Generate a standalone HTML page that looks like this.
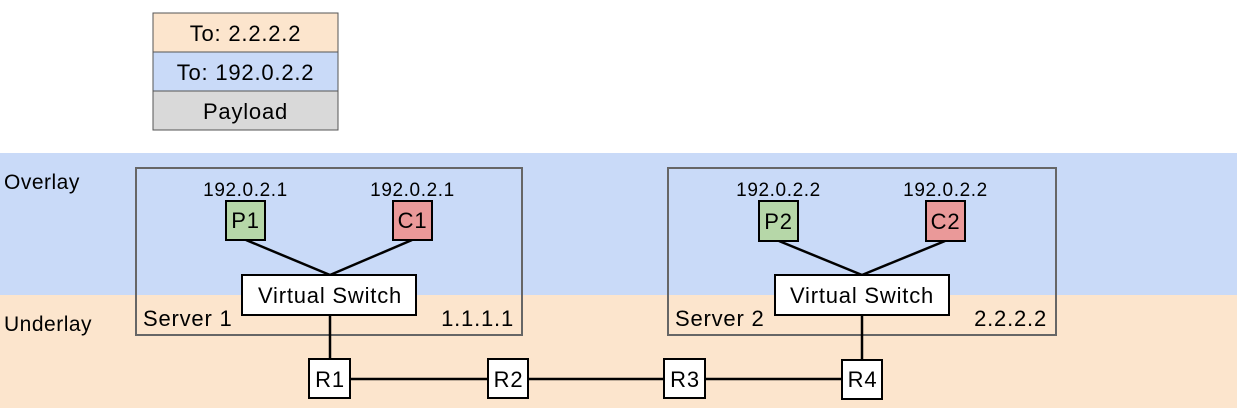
<!DOCTYPE html>
<html><head><meta charset="utf-8"><style>
html,body{margin:0;padding:0;background:#fff}
svg{display:block}
text{font-family:"Liberation Sans",sans-serif;fill:#000}
</style></head><body>
<svg width="1237" height="408" viewBox="0 0 1237 408" xmlns="http://www.w3.org/2000/svg">
<rect x="0" y="153" width="1237" height="142" fill="#c9daf8"/>
<rect x="0" y="295" width="1237" height="113" fill="#fce5cd"/>
<!-- packet -->
<rect x="153" y="13" width="185" height="39" fill="#fce5cd" stroke="#555" stroke-width="1"/>
<rect x="153" y="52" width="185" height="39" fill="#c9daf8" stroke="#555" stroke-width="1"/>
<rect x="153" y="91" width="185" height="39" fill="#d9d9d9" stroke="#555" stroke-width="1"/>
<g font-size="22" text-anchor="middle" letter-spacing="0.8">
<text x="245.5" y="41">To: 2.2.2.2</text>
<text x="245.5" y="80">To: 192.0.2.2</text>
<text x="245.5" y="119">Payload</text>
</g>
<text x="4" y="189" font-size="21" letter-spacing="0.5">Overlay</text>
<text x="4" y="331" font-size="21" letter-spacing="0.5">Underlay</text>
<!-- servers -->
<rect x="136" y="168" width="386" height="167" fill="none" stroke="#666" stroke-width="2"/>
<rect x="668" y="168" width="388" height="167" fill="none" stroke="#666" stroke-width="2"/>
<g stroke="#000" stroke-width="2.5">
<line x1="246" y1="240" x2="330" y2="275"/>
<line x1="412" y1="240" x2="330" y2="275"/>
<line x1="779" y1="241" x2="862" y2="275"/>
<line x1="945" y1="241" x2="862" y2="275"/>
<line x1="330" y1="315" x2="330" y2="359"/>
<line x1="862" y1="315" x2="862" y2="360"/>
<line x1="350" y1="379" x2="842" y2="379"/>
</g>
<g stroke="#000" stroke-width="2">
<rect x="226" y="201" width="39" height="39" fill="#b6d7a8"/>
<rect x="393" y="201" width="39" height="39" fill="#ea9999"/>
<rect x="759" y="201" width="39" height="40" fill="#b6d7a8"/>
<rect x="926" y="201" width="39" height="40" fill="#ea9999"/>
<rect x="242" y="275" width="174" height="40" fill="#fff"/>
<rect x="775" y="275" width="174" height="40" fill="#fff"/>
<rect x="309" y="359" width="41" height="39" fill="#fff"/>
<rect x="488" y="359" width="40" height="39" fill="#fff"/>
<rect x="664" y="359" width="41" height="39" fill="#fff"/>
<rect x="842" y="360" width="40" height="39" fill="#fff"/>
</g>
<g font-size="19" text-anchor="middle" letter-spacing="0.6">
<text x="245.5" y="196">192.0.2.1</text>
<text x="412.5" y="196">192.0.2.1</text>
<text x="778.5" y="196">192.0.2.2</text>
<text x="945.5" y="196">192.0.2.2</text>
</g>
<g font-size="22" text-anchor="middle" letter-spacing="0.8">
<text x="245.5" y="228">P1</text>
<text x="412.5" y="228">C1</text>
<text x="778.5" y="229">P2</text>
<text x="945.5" y="229">C2</text>
<text x="330" y="303">Virtual Switch</text>
<text x="862" y="303">Virtual Switch</text>
<text x="330" y="387">R1</text>
<text x="508.5" y="387">R2</text>
<text x="685" y="387">R3</text>
<text x="862.5" y="387">R4</text>
</g>
<g font-size="22" letter-spacing="0.8">
<text x="143" y="326">Server 1</text>
<text x="514" y="326" text-anchor="end">1.1.1.1</text>
<text x="675" y="326">Server 2</text>
<text x="1047" y="326" text-anchor="end">2.2.2.2</text>
</g>
</svg>
</body></html>
